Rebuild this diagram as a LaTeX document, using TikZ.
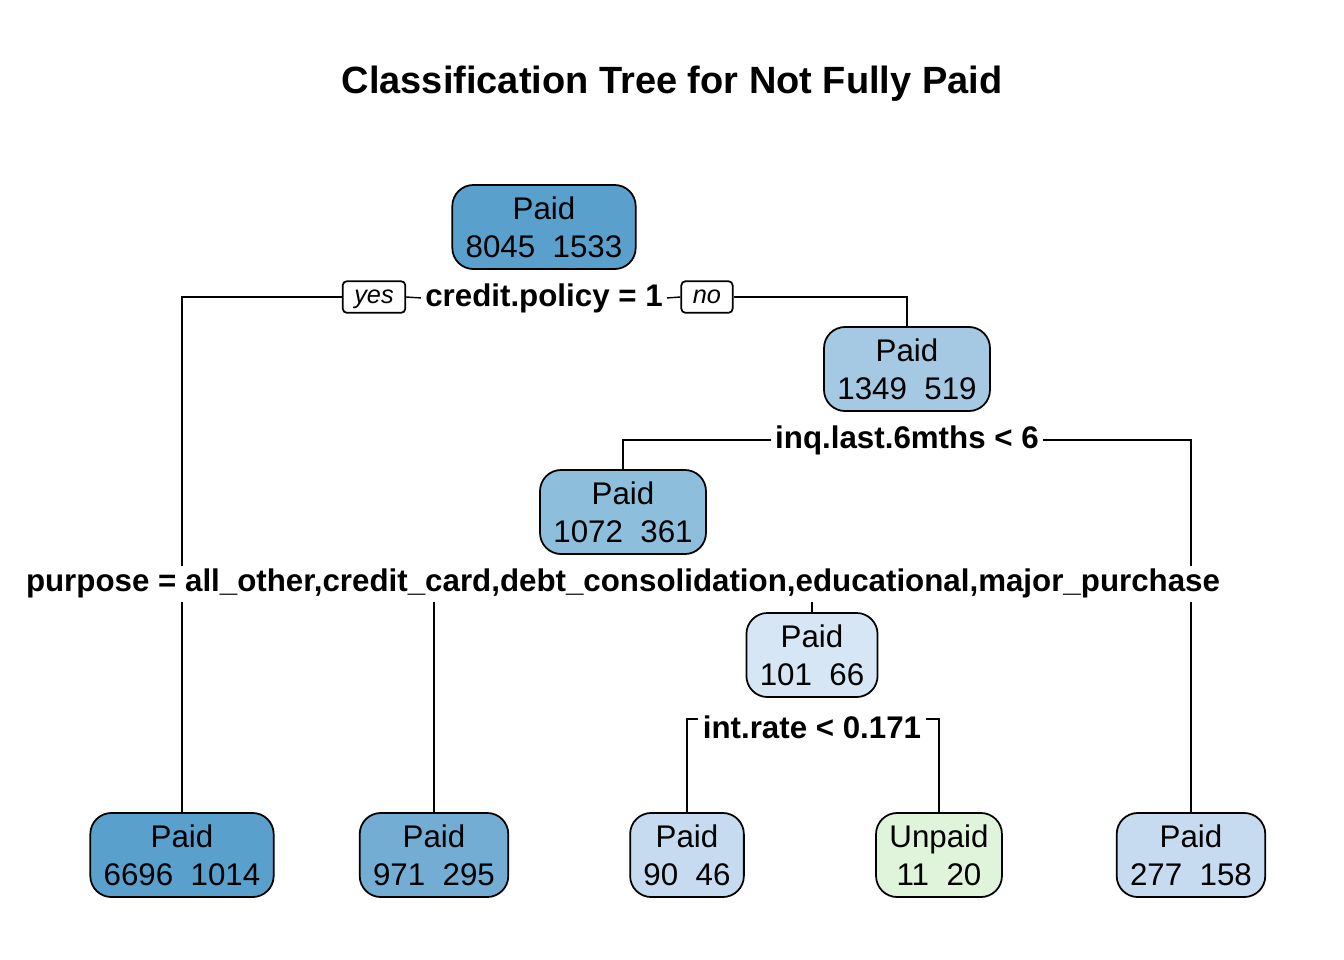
\documentclass[tikz,border=0pt]{standalone}
\usepackage{fontspec}
\setmainfont{Liberation Sans}
\usetikzlibrary{backgrounds}
\definecolor{blueA}{HTML}{5AA0CD}
\definecolor{blueB}{HTML}{74ADD4}
\definecolor{blueC}{HTML}{8DBEDB}
\definecolor{blueD}{HTML}{A5C9E2}
\definecolor{blueE}{HTML}{C6DBEF}
\definecolor{blueF}{HTML}{D6E6F4}
\definecolor{greenA}{HTML}{E0F3DB}

\begin{document}
\begin{tikzpicture}[x=0.01cm,y=-0.01cm,line width=0.5pt,
  nodebox/.style={draw,rounded corners=6pt,align=center,inner xsep=3.8pt,
    minimum height=23.8pt,font=\fontsize{8.9}{10.7}\selectfont},
  splitlab/.style={fill=white,inner sep=1pt,text height=6.4pt,text depth=1.9pt,
    font=\bfseries\fontsize{8.9}{10.7}\selectfont},
  ynbox/.style={draw,fill=white,rounded corners=1.2pt,inner xsep=3.3pt,inner ysep=1.2pt,
    text height=5.2pt,text depth=1.4pt,font=\itshape\fontsize{7.2}{8}\selectfont}]
  \useasboundingbox (0,0) rectangle (1344,960);
  % ---------- title ----------
  \node[font=\bfseries\fontsize{10.8}{13}\selectfont] (title) at (672,84)
    {Classification Tree for Not Fully Paid};
  % ---------- inner nodes ----------
  \node[nodebox,fill=blueA] (n1) at (544,227) {Paid\\8045~~1533};
  \node[nodebox,fill=blueD] (n2) at (907,369) {Paid\\1349~~519};
  \node[nodebox,fill=blueC] (n3) at (623,512) {Paid\\1072~~361};
  \node[nodebox,fill=blueF] (n7) at (812,655) {Paid\\101~~66};
  % ---------- leaves ----------
  \node[nodebox,fill=blueA] (l1) at (182,855) {Paid\\6696~~1014};
  \node[nodebox,fill=blueB] (l2) at (434,855) {Paid\\971~~295};
  \node[nodebox,fill=blueE] (l3) at (687,855) {Paid\\90~~46};
  \node[nodebox,fill=greenA] (l4) at (939,855) {Unpaid\\11~~20};
  \node[nodebox,fill=blueE] (l5) at (1191,855) {Paid\\277~~158};
  % ---------- split labels ----------
  \node[splitlab] (s1) at (544,299) {credit.policy = 1};
  \node[ynbox] (yes) at (374,297) {yes};
  \node[ynbox] (no) at (707,297) {no};
  \node[splitlab] (s2) at (907,441) {inq.last.6mths < 6};
  \node[splitlab] (s3) at (623,584)
    {purpose = all\_other,credit\_card,debt\_consolidation,educational,major\_purchase};
  \node[splitlab] (s4) at (812,731) {int.rate < 0.171};
  % ---------- branches ----------
  \begin{scope}[on background layer]
    \draw (yes.west) -| (l1.north);
    \draw (yes.east) -- ([yshift=0.3pt]s1.west);
    \draw ([yshift=0.3pt]s1.east) -- (no.west);
    \draw (no.east) -| (n2.north);
    \draw ([yshift=0.3pt]s2.west) -| (n3.north);
    \draw ([yshift=0.3pt]s2.east) -| (l5.north);
    \draw (s3.center) -| (l2.north);
    \draw (s3.center) -| (n7.north);
    \draw ([yshift=3.4pt]s4.west) -| (l3.north);
    \draw ([yshift=3.4pt]s4.east) -| (l4.north);
  \end{scope}
\end{tikzpicture}
\end{document}
